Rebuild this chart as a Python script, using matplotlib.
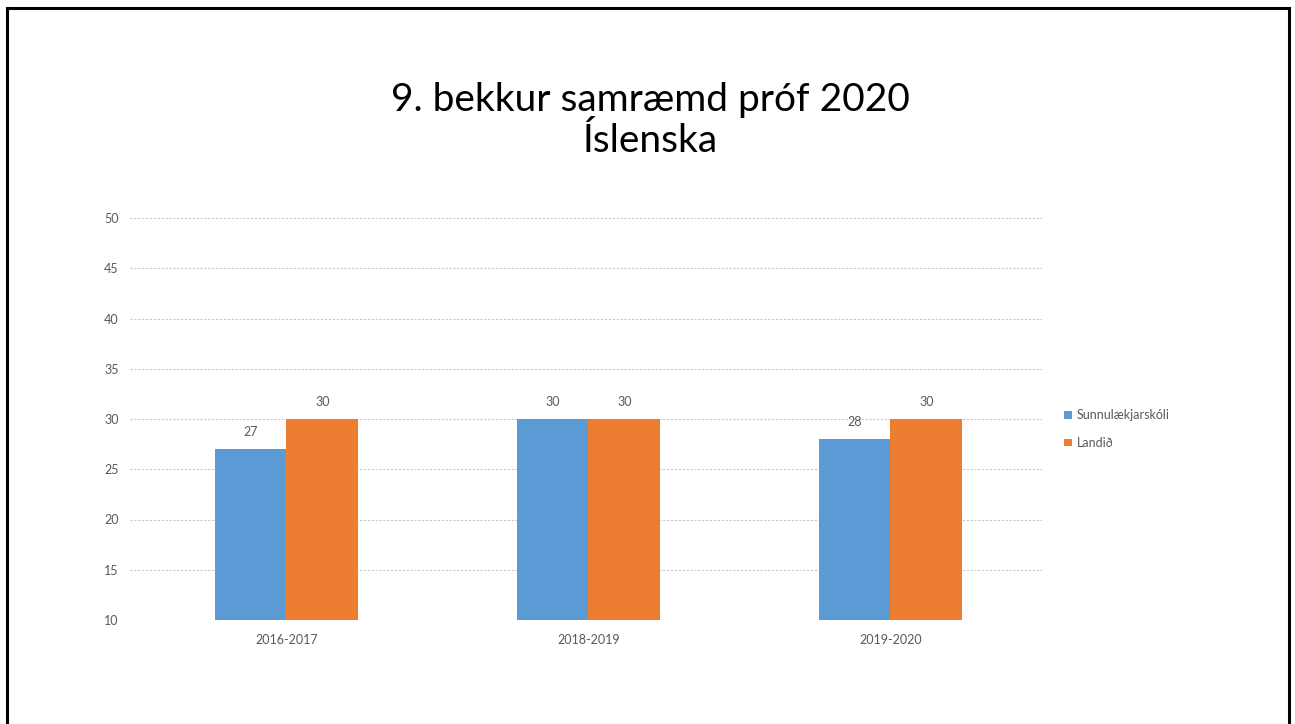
import matplotlib
matplotlib.use("Agg")
import matplotlib.pyplot as plt
from matplotlib.patches import Rectangle
import numpy as np

categories = ["2016-2017", "2018-2019", "2019-2020"]
series_names = ["Sunnulækjarskóli", "Landið"]
school = [27, 30, 28]
national = [30, 30, 30]
yticks = [10, 15, 20, 25, 30, 35, 40, 45, 50]

colors = ["#5B9BD5", "#ED7D31"]
grey = "#595959"

plt.rcParams['font.family'] = ['Lato', 'DejaVu Sans']

W, H = 1295, 724
fig = plt.figure(figsize=(W/100, H/100), dpi=100)
fig.patch.set_facecolor("white")

# outer frame
fig.patches.append(Rectangle((7/W, -0.05), (1289-7)/W, 1 - 8/H + 0.05,
                             transform=fig.transFigure, fill=False,
                             edgecolor="black", linewidth=2.2))

ax = fig.add_axes([130/W, 1-620/H, (1042-130)/W, (620-218)/H])
x = np.arange(len(categories))
w = 0.238
b1 = ax.bar(x - w/2, [v - 10 for v in school], w, bottom=10, color=colors[0], label=series_names[0], zorder=3)
b2 = ax.bar(x + w/2, [v - 10 for v in national], w, bottom=10, color=colors[1], label=series_names[1], zorder=3)

for bars, vals in ((b1, school), (b2, national)):
    for r, v in zip(bars, vals):
        ax.annotate(str(v), (r.get_x() + r.get_width()/2, v), xytext=(0, 8),
                    textcoords="offset points", ha="center", va="bottom",
                    fontsize=9, color=grey)

ax.set_xlim(-0.518, 2.502)
ax.set_ylim(10, 50)
ax.set_yticks(yticks)
ax.set_xticks(x)
ax.set_xticklabels(categories)
ax.tick_params(axis="both", length=0, labelsize=9, labelcolor=grey)
ax.tick_params(axis="y", pad=8)
ax.tick_params(axis="x", pad=10)
for s in ax.spines.values():
    s.set_visible(False)
ax.grid(axis="y", color="#C8C8C8", linestyle=(0, (2, 1.5)), linewidth=0.8, zorder=0)

leg = fig.legend(handles=[b1, b2], labels=series_names, loc="upper left",
                 bbox_to_anchor=(1053/W, 1-398/H), frameon=False, fontsize=9,
                 handlelength=0.6, handleheight=0.6, handletextpad=0.4,
                 labelspacing=1.25, labelcolor=grey)

fig.text(650/W, 1-100/H, "9. bekkur samræmd próf 2020", ha="center", va="center",
         fontsize=28, color="black")
fig.text(650/W, 1-141/H, "Íslenska", ha="center", va="center",
         fontsize=28, color="black")

fig.savefig("out.png", dpi=100, facecolor="white")
